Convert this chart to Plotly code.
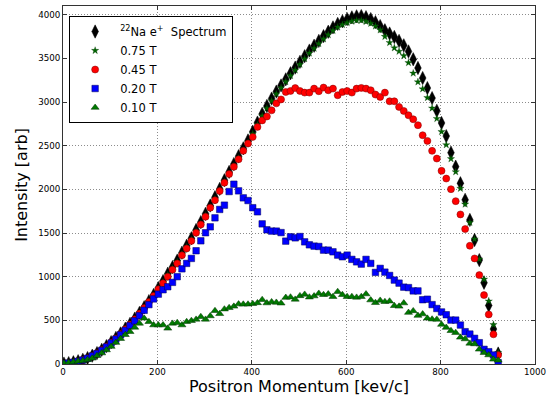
import plotly.graph_objects as go

# momentum grid [keV/c]
momentum = list(range(2, 923, 10))

spectrum = [5, 10, 20, 32, 48, 68, 95, 125, 162, 205,
            250, 298, 350, 405, 460, 520, 585, 650, 720, 790,
            870, 950, 1035, 1110, 1185, 1275, 1355, 1440, 1535, 1625,
            1720, 1815, 1910, 2005, 2105, 2200, 2290, 2380, 2470, 2560,
            2660, 2765, 2865, 2955, 3040, 3120, 3190, 3260, 3330, 3395,
            3460, 3525, 3590, 3645, 3700, 3755, 3805, 3855, 3895, 3925,
            3950, 3970, 3982, 3985, 3972, 3950, 3915, 3870, 3822, 3785,
            3745, 3700, 3650, 3580, 3490, 3390, 3275, 3160, 3045, 2900,
            2760, 2610, 2420, 2260, 2070, 1880, 1650, 1420, 1190, 930,
            670, 400, 120]

field_075 = [5, 10, 18, 30, 45, 65, 92, 122, 158, 200,
             245, 292, 344, 398, 452, 512, 577, 640, 710, 780,
             858, 938, 1020, 1095, 1170, 1258, 1338, 1422, 1515, 1605,
             1700, 1795, 1888, 1982, 2082, 2176, 2266, 2356, 2446, 2535,
             2635, 2740, 2840, 2928, 3012, 3092, 3162, 3232, 3302, 3366,
             3430, 3495, 3560, 3615, 3668, 3722, 3770, 3818, 3858, 3886,
             3908, 3925, 3935, 3935, 3922, 3900, 3870, 3825, 3750, 3680,
             3620, 3580, 3530, 3450, 3330, 3230, 3150, 3050, 2930, 2810,
             2660, 2510, 2350, 2200, 2010, 1830, 1620, 1430, 1200, 970,
             720, 450, 130]

field_045 = [5, 10, 18, 30, 45, 65, 92, 122, 160, 200,
             245, 292, 343, 398, 452, 512, 577, 640, 710, 780,
             855, 925, 1000, 1080, 1152, 1245, 1323, 1410, 1503, 1597,
             1686, 1790, 1876, 1980, 2076, 2176, 2258, 2345, 2441, 2525,
             2600, 2715, 2790, 2835, 2905, 2985, 3030, 3115, 3127, 3160,
             3127, 3108, 3108, 3154, 3124, 3166, 3135, 3154, 3078, 3115,
             3127, 3108, 3154, 3162, 3154, 3135, 3086, 3058, 3108, 3009,
             3009, 2944, 2898, 2849, 2803, 2735, 2620, 2555, 2441, 2353,
             2212, 2124, 2002, 1865, 1713, 1545, 1354, 1209, 1018, 789,
             568, 340, 103]

field_020 = [5, 10, 18, 30, 45, 65, 92, 120, 155, 195,
             240, 285, 335, 385, 440, 495, 555, 615, 680, 745,
             800, 850, 885, 935, 1000, 1090, 1152, 1209, 1297, 1411,
             1503, 1571, 1674, 1770, 1819, 1975, 2059, 1983, 1903, 1872,
             1790, 1743, 1605, 1537, 1522, 1522, 1505, 1407, 1457, 1445,
             1460, 1399, 1365, 1350, 1346, 1304, 1304, 1285, 1247, 1228,
             1247, 1198, 1170, 1144, 1198, 1152, 1049, 1095, 1052, 1014,
             961, 926, 880, 875, 837, 837, 736, 742, 680, 636,
             596, 564, 503, 503, 446, 370, 343, 294, 244, 168,
             141, 103, 15]

field_010 = [8, 15, 23, 31, 38, 50, 65, 95, 125, 160,
             200, 245, 290, 335, 370, 419, 465, 523, 484, 446,
             446, 446, 408, 465, 473, 446, 484, 496, 511, 541,
             511, 550, 610, 575, 628, 644, 660, 686, 684, 684,
             690, 700, 736, 698, 711, 705, 696, 761, 765, 740,
             780, 797, 765, 778, 808, 793, 801, 771, 828, 793,
             771, 771, 763, 771, 801, 732, 702, 728, 713, 719,
             667, 660, 698, 589, 608, 555, 572, 523, 513, 511,
             452, 418, 381, 359, 305, 286, 236, 229, 168, 130,
             103, 53, 42]

x_ticks = [0, 200, 400, 600, 800, 1000]
y_ticks = [0, 500, 1000, 1500, 2000, 2500, 3000, 3500, 4000]

FONT = "DejaVu Sans"

fig = go.Figure()
fig.add_trace(go.Scatter(
    x=momentum, y=spectrum, mode="markers",
    name="<sup>22</sup>Na e<sup>+</sup>  Spectrum",
    marker=dict(symbol="diamond-tall", size=9.5, color="black",
                line=dict(color="black", width=0.5))))
fig.add_trace(go.Scatter(
    x=momentum, y=field_075, mode="markers", name="0.75 T",
    marker=dict(symbol="star", size=5.5, color="#006400",
                line=dict(color="#003300", width=0.3))))
fig.add_trace(go.Scatter(
    x=momentum, y=field_045, mode="markers", name="0.45 T",
    marker=dict(symbol="circle", size=7, color="#ff0000",
                line=dict(color="#7a0000", width=0.5))))
fig.add_trace(go.Scatter(
    x=momentum, y=field_020, mode="markers", name="0.20 T",
    marker=dict(symbol="square", size=6.5, color="#0000ff",
                line=dict(color="#000055", width=0.5))))
fig.add_trace(go.Scatter(
    x=momentum, y=field_010, mode="markers", name="0.10 T",
    marker=dict(symbol="triangle-up", size=7, color="#007a00",
                line=dict(color="#003300", width=0.5))))

axis_common = dict(
    showline=True, linecolor="#333333", linewidth=1, mirror="allticks",
    ticks="inside", ticklen=4, tickcolor="#333333", tickwidth=1,
    showgrid=True, gridcolor="rgba(0,0,0,0.45)", gridwidth=1, griddash="1px,2px",
    zeroline=False, tickfont=dict(family=FONT, size=8.7, color="black"),
)

fig.update_xaxes(range=[0, 1000], tickvals=x_ticks,
                 title=dict(text="Positron Momentum [kev/c]",
                            font=dict(family=FONT, size=16, color="black"),
                            standoff=0),
                 **axis_common)
fig.update_yaxes(range=[0, 4100], tickvals=y_ticks,
                 title=dict(text="Intensity [arb]",
                            font=dict(family=FONT, size=16, color="black"),
                            standoff=6),
                 **axis_common)

fig.update_layout(
    width=553, height=398,
    margin=dict(l=63, r=18, t=6, b=34),
    paper_bgcolor="white", plot_bgcolor="white",
    font=dict(family=FONT, color="black"),
    showlegend=True,
    legend=dict(x=0.013, y=0.972, xanchor="left", yanchor="top",
                bgcolor="white", bordercolor="black", borderwidth=1,
                font=dict(family=FONT, size=11.5, color="black"),
                tracegroupgap=0, itemwidth=40),
)

fig.write_html("out.html",
               config={"displayModeBar": False},
               post_script="document.body.style.margin='0';document.body.style.overflow='hidden';")
